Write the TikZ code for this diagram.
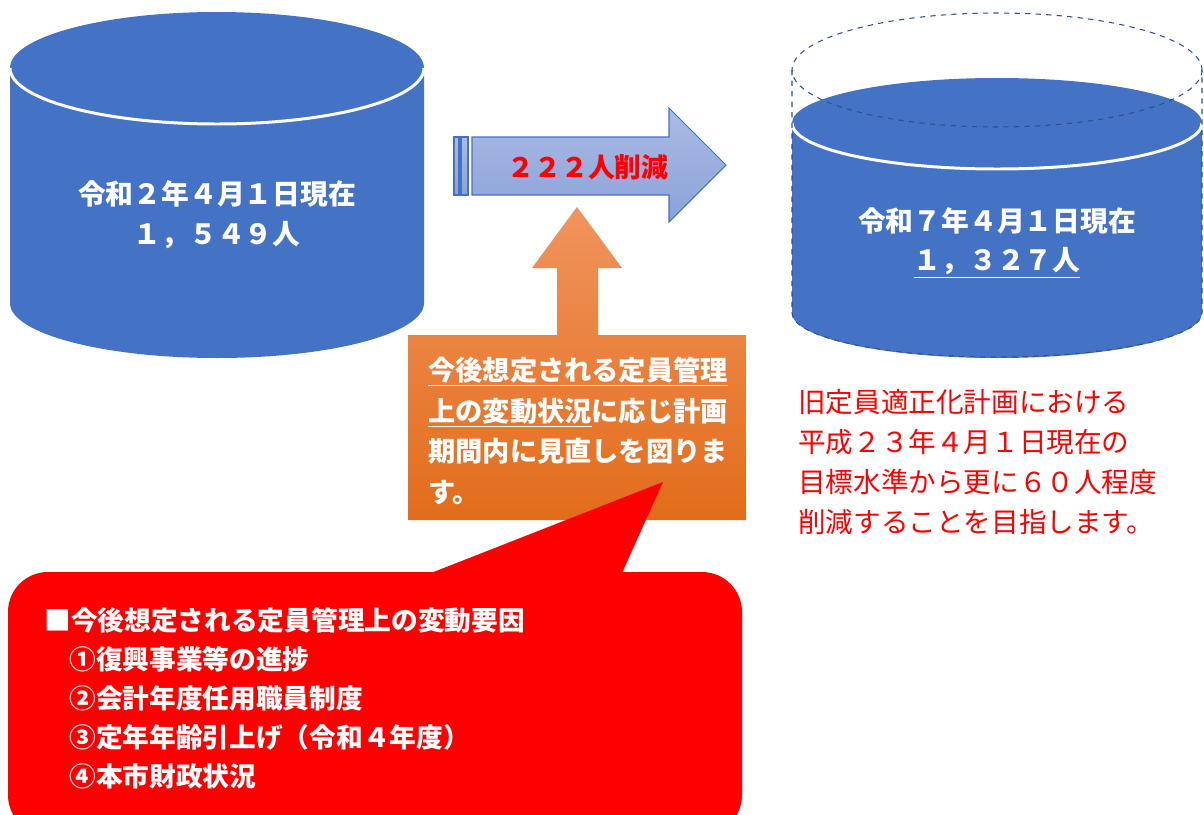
\documentclass[tikz,border=0pt]{standalone}
\usepackage{fontspec}
\setmainfont{Noto Sans CJK JP}
\definecolor{cylblue}{RGB}{68,114,196}
\definecolor{dashblue}{RGB}{47,82,143}
\definecolor{arrtop}{RGB}{172,187,227}
\definecolor{arrbot}{RGB}{138,161,217}
\definecolor{orgtop}{RGB}{241,148,94}
\definecolor{orgbot}{RGB}{226,108,26}
\definecolor{pured}{RGB}{255,0,0}
\tikzset{
  cyl/.style={fill=cylblue},
  rim/.style={draw=white, line width=1.7pt},
  ghost/.style={draw=dashblue, dashed, line width=0.6pt},
  bluearrow/.style={top color=arrtop, bottom color=arrbot, draw=cylblue, line width=0.6pt},
  cyltext/.style={text=white, font=\bfseries\fontsize{15.8pt}{22.7pt}\selectfont, align=center, inner sep=0pt},
  orgtext/.style={text=white, font=\bfseries\fontsize{15.5pt}{23.2pt}\selectfont, align=left, inner sep=0pt, anchor=west},
  redtext/.style={text=white, font=\bfseries\fontsize{15.2pt}{22.2pt}\selectfont, align=left, inner sep=0pt, anchor=west},
  notetext/.style={text=pured, font=\fontsize{15.7pt}{22.7pt}\selectfont, align=left, inner sep=0pt, anchor=west},
}
\begin{document}
\begin{tikzpicture}[x=0.02cm, y=-0.02cm]
\clip (0,0) rectangle (1204,815);
\fill[white] (0,0) rectangle (1204,815);

% left cylinder
\fill[cyl] (10,68) -- (10,303) arc[start angle=180, end angle=0, x radius=207, y radius=55]
  -- (424,68) arc[start angle=0, end angle=-180, x radius=207, y radius=56] -- cycle;
\draw[rim] (10,68) arc[start angle=180, end angle=0, x radius=207, y radius=56];
\node[cyltext] (leftcyl) at (217,215) {令和２年４月１日現在\\１，５４９人};

% right cylinder
\fill[cyl] (792,123) -- (792,313) arc[start angle=180, end angle=0, x radius=205, y radius=45]
  -- (1202,123) arc[start angle=0, end angle=-180, x radius=205, y radius=45] -- cycle;
\draw[rim] (792,123) arc[start angle=180, end angle=0, x radius=205, y radius=46];
\draw[ghost] (997,70) ellipse[x radius=205, y radius=57];
\draw[ghost] (792,70) -- (792,313) arc[start angle=180, end angle=0, x radius=205, y radius=44] -- (1202,70);
\node[cyltext] (rightcyl) at (997,243) {令和７年４月１日現在\\\underline{１，３２７人}};

% blue arrow
\draw[bluearrow] (454,137) rectangle (459,195);
\draw[bluearrow] (461,137) rectangle (468,195);
\draw[bluearrow] (472,137) -- (669,137) -- (669,108) -- (726,165) -- (669,222) -- (669,195) -- (472,195) -- cycle;
\node[text=pured, font=\bfseries\fontsize{15.3pt}{18pt}\selectfont, inner sep=0pt] (cut) at (588,167) {２２２人削減};

% orange up-arrow callout
\shade[top color=orgtop, bottom color=orgbot]
  (408,335) -- (557,335) -- (557,268) -- (532,268) -- (577,207) -- (622,268) -- (598,268)
  -- (598,335) -- (746,335) -- (746,520) -- (408,520) -- cycle;
\node[orgtext] (review) at (428,431) {\underline{今後想定される定員管理}\\\underline{上の変動状況}に応じ計画\\期間内に見直しを図りま\\す。};

% red callout
\fill[pured, rounded corners=0.8cm] (8,572) rectangle (742,835);
\fill[pured] (431,573) -- (663,482) -- (622,573) -- cycle;
\node[redtext] (factors) at (44,698) {■今後想定される定員管理上の変動要因\\
\hspace*{14.2pt}①復興事業等の進捗\\
\hspace*{14.2pt}②会計年度任用職員制度\\
\hspace*{14.2pt}③定年年齢引上げ（令和４年度）\\
\hspace*{14.2pt}④本市財政状況};

% note
\node[notetext] (note) at (798,462) {旧定員適正化計画における\\平成２３年４月１日現在の\\目標水準から更に６０人程度\\削減することを目指します。};
\end{tikzpicture}
\end{document}
